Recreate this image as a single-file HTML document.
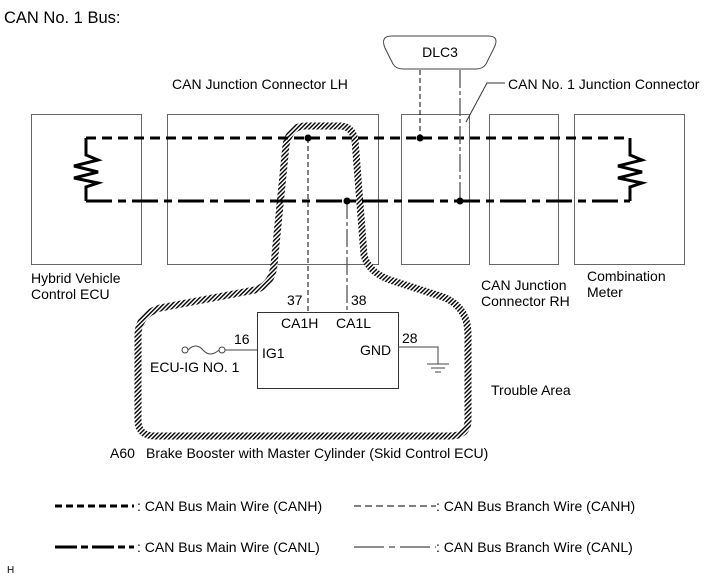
<!DOCTYPE html>
<html><head><meta charset="utf-8"><style>
html,body{margin:0;padding:0;background:#fff;}
svg{display:block;font-family:"Liberation Sans",Arial,sans-serif;}
</style></head><body>
<svg width="711" height="579" viewBox="0 0 711 579" xmlns="http://www.w3.org/2000/svg">
<defs>
<pattern id="h" width="3" height="3" patternUnits="userSpaceOnUse" patternTransform="rotate(45)">
<rect width="3" height="3" fill="#fff"/><rect width="1.4" height="3" fill="#000"/>
</pattern>
</defs>
<text x="4" y="23" font-size="16.5">CAN No. 1 Bus:</text>
<g fill="none" stroke="#666" stroke-width="1">
<rect x="31.5" y="114.5" width="110" height="150"/>
<rect x="167.5" y="114.5" width="211" height="150"/>
<rect x="401.5" y="114.5" width="68" height="150"/>
<rect x="489.5" y="114.5" width="69" height="150"/>
<rect x="574.5" y="114.5" width="110" height="150"/>
<rect x="257.5" y="312.5" width="141" height="76" stroke="#333"/>
</g>
<g font-size="14">
<text x="172" y="89">CAN Junction Connector LH</text>
<text x="508" y="89">CAN No. 1 Junction Connector</text>
<text x="31" y="283">Hybrid Vehicle</text>
<text x="31" y="299">Control ECU</text>
<text x="481" y="290">CAN Junction</text>
<text x="481" y="306">Connector RH</text>
<text x="587" y="281">Combination</text>
<text x="587" y="297">Meter</text>
</g>
<polyline points="466,122 487,83 505,83" fill="none" stroke="#333"/>
<path d="M392,36 L488,36 Q500,36 494,48 L486,64 Q483,69 476,69 L403,69 Q396,69 393,64 L385,48 Q380,36 392,36 Z" fill="#fff" stroke="#444"/>
<text x="440" y="57" font-size="14" text-anchor="middle">DLC3</text>
<path d="M305,126 L340,126 Q352,126 355,140 L364,255 Q368,272 390,280 L440,296 Q468,305 468,335 L468,420 Q468,436 450,436 L155,436 Q138,436 138,420 L138,335 Q138,315 160,308 L255,290 Q272,285 274,265 L286,145 Q290,126 305,126 Z" fill="none" stroke="url(#h)" stroke-width="7"/>
<path d="M86,138 H630" stroke="#000" stroke-width="3" stroke-dasharray="10,6" fill="none"/>
<path d="M86,201 H630" stroke="#000" stroke-width="3" stroke-dasharray="26,6,8,6" fill="none"/>
<g fill="none" stroke="#000" stroke-width="3">
<path d="M86,138 V155 L98,160 L74,166 L98,172 L74,178 L98,183 L86,187 V201"/>
<path d="M630,138 V155 L642,160 L618,166 L642,172 L618,178 L642,183 L630,187 V201"/>
</g>
<path d="M420,70 V138" stroke="#000" stroke-dasharray="5,3" fill="none"/>
<path d="M460,70 V201" stroke="#555" stroke-width="1.3" stroke-dasharray="18,3,4,3" fill="none"/>
<path d="M308,138 V312" stroke="#000" stroke-dasharray="5,3" fill="none"/>
<path d="M347,201 V312" stroke="#555" stroke-width="1.3" stroke-dasharray="18,3,4,3" fill="none"/>
<g fill="#000"><circle cx="420" cy="138" r="3.5"/><circle cx="460" cy="201" r="3.5"/><circle cx="308" cy="138" r="3.5"/><circle cx="347" cy="201" r="3.5"/></g>
<g font-size="14">
<text x="287" y="305">37</text><text x="351" y="305">38</text>
<text x="281" y="328">CA1H</text><text x="336" y="328">CA1L</text>
<text x="262" y="358">IG1</text>
<text x="360" y="355">GND</text>
<text x="234" y="344">16</text><text x="402" y="343">28</text>
<text x="150" y="372">ECU-IG NO. 1</text>
<text x="491" y="395">Trouble Area</text>
<text x="110" y="458">A60</text>
<text x="146" y="458">Brake Booster with Master Cylinder (Skid Control ECU)</text>
</g>
<g fill="none" stroke="#444">
<circle cx="185" cy="350" r="3"/><circle cx="222" cy="350" r="3"/>
<path d="M188,350 Q196,342 203,350 Q210,358 219,350"/>
<path d="M225,350 H257"/>
<path d="M398,347 H438 V364"/>
<path d="M427,364 H449 M431,368 H445 M435,372 H441"/>
</g>
<path d="M55,506 H134" stroke="#000" stroke-width="3" stroke-dasharray="7,4" fill="none"/>
<text x="137" y="511" font-size="14">: CAN Bus Main Wire (CANH)</text>
<path d="M354,506 H436" stroke="#000" stroke-width="1" stroke-dasharray="7,4" fill="none"/>
<text x="436" y="511" font-size="14">: CAN Bus Branch Wire (CANH)</text>
<path d="M55,547 H134" stroke="#000" stroke-width="3" stroke-dasharray="22,4,7,4" fill="none"/>
<text x="137" y="552" font-size="14">: CAN Bus Main Wire (CANL)</text>
<path d="M354,547 H436" stroke="#666" stroke-width="1.5" stroke-dasharray="30,5,6,5" fill="none"/>
<text x="436" y="552" font-size="14">: CAN Bus Branch Wire (CANL)</text>
<text x="7" y="573" font-size="10">H</text>
</svg>
</body></html>
